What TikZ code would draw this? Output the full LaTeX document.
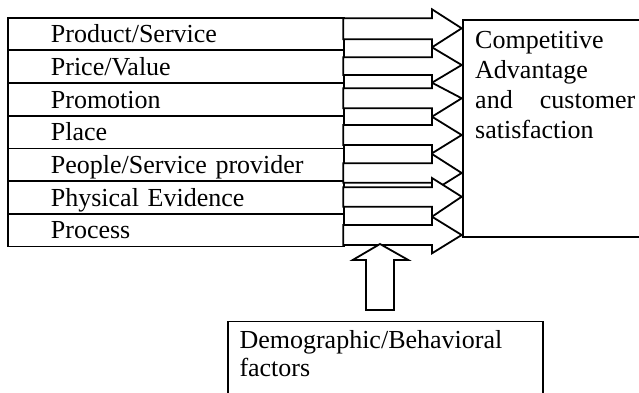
\documentclass[tikz,border=0pt]{standalone}
\usepackage{fontspec}
\setmainfont{Liberation Serif}
\newcommand\mainsize{\fontsize{26pt}{30pt}\selectfont}
\newcommand\botsize{\fontsize{26pt}{28.4pt}\selectfont}
\tikzset{
  ln/.style={line width=1.8pt},
  rowbox/.style={draw, ln, minimum width=336pt, minimum height=32.7pt, anchor=north west,
    inner xsep=0pt, inner ysep=3.5pt, text width=336pt, align=left,
    text height=21.5pt, text depth=4.2pt, font=\mainsize},
  plainbox/.style={draw, ln, anchor=north west, inner sep=0pt},
  txt/.style={anchor=north west, inner sep=0pt, align=left, font=\mainsize},
  blockarrow/.style={draw, ln, fill=white, line join=miter},
}
\newcommand\rarrow[5]{%
  \path[blockarrow] (343.3,#1) -- (432,#1) -- (432,#3) -- (461.7,#4) -- (432,#5) -- (432,#2) -- (343.3,#2) -- cycle;}
\begin{document}
\begin{tikzpicture}[x=1pt,y=-1pt]
\useasboundingbox (0,0) rectangle (639,392);
\clip (0,0) rectangle (639,392);
\fill[white] (0,0) rectangle (639,392);
% left box rows
\node[rowbox] (r1) at (7.3,16.7)  {\hspace*{42.7pt}Product/Service};
\node[rowbox] (r2) at (7.3,49.4)  {\hspace*{42.7pt}Price/Value};
\node[rowbox] (r3) at (7.3,82.1)  {\hspace*{42.7pt}Promotion};
\node[rowbox] (r4) at (7.3,114.8) {\hspace*{42.7pt}Place};
\node[rowbox] (r5) at (7.3,147.5) {\hspace*{42.7pt}People/Service provider};
\node[rowbox] (r6) at (7.3,180.2) {\hspace*{42.7pt}Physical Evidence};
\node[rowbox] (r7) at (7.3,212.9) {\hspace*{42.7pt}Process};
% right box
\node[plainbox, minimum width=200pt, minimum height=216.7pt] (cab) at (461.7,19.3) {};
\node[txt] (cabtext) at (475,31) {Competitive\\Advantage\\\makebox[160pt][s]{and customer}\\satisfaction};
% block arrows (shaft top, shaft bottom, head top, tip, head bottom)
\rarrow{18.3}{39.3}{9.3}{28.3}{47.3}
\rarrow{57.3}{75}{47.3}{65}{82.7}
\rarrow{88.3}{108.3}{82.7}{98.3}{116.7}
\rarrow{125}{145}{116.7}{135}{153.3}
\rarrow{163.3}{182.7}{154}{173}{191.5}
\rarrow{187.3}{206.7}{178}{196.7}{216.7}
\rarrow{225}{245}{216.7}{235}{253.3}
% bottom box
\node[plainbox, minimum width=315pt, minimum height=90pt] (demo) at (226.7,320.5) {};
\node[txt, font=\botsize] (demotext) at (239.3,330) {Demographic/Behavioral\\factors};
% up arrow
\path[blockarrow] (366,310) -- (366,260) -- (352.7,260) -- (380,244) -- (408.3,260) -- (394,260) -- (394,310) -- cycle;
\end{tikzpicture}
\end{document}
